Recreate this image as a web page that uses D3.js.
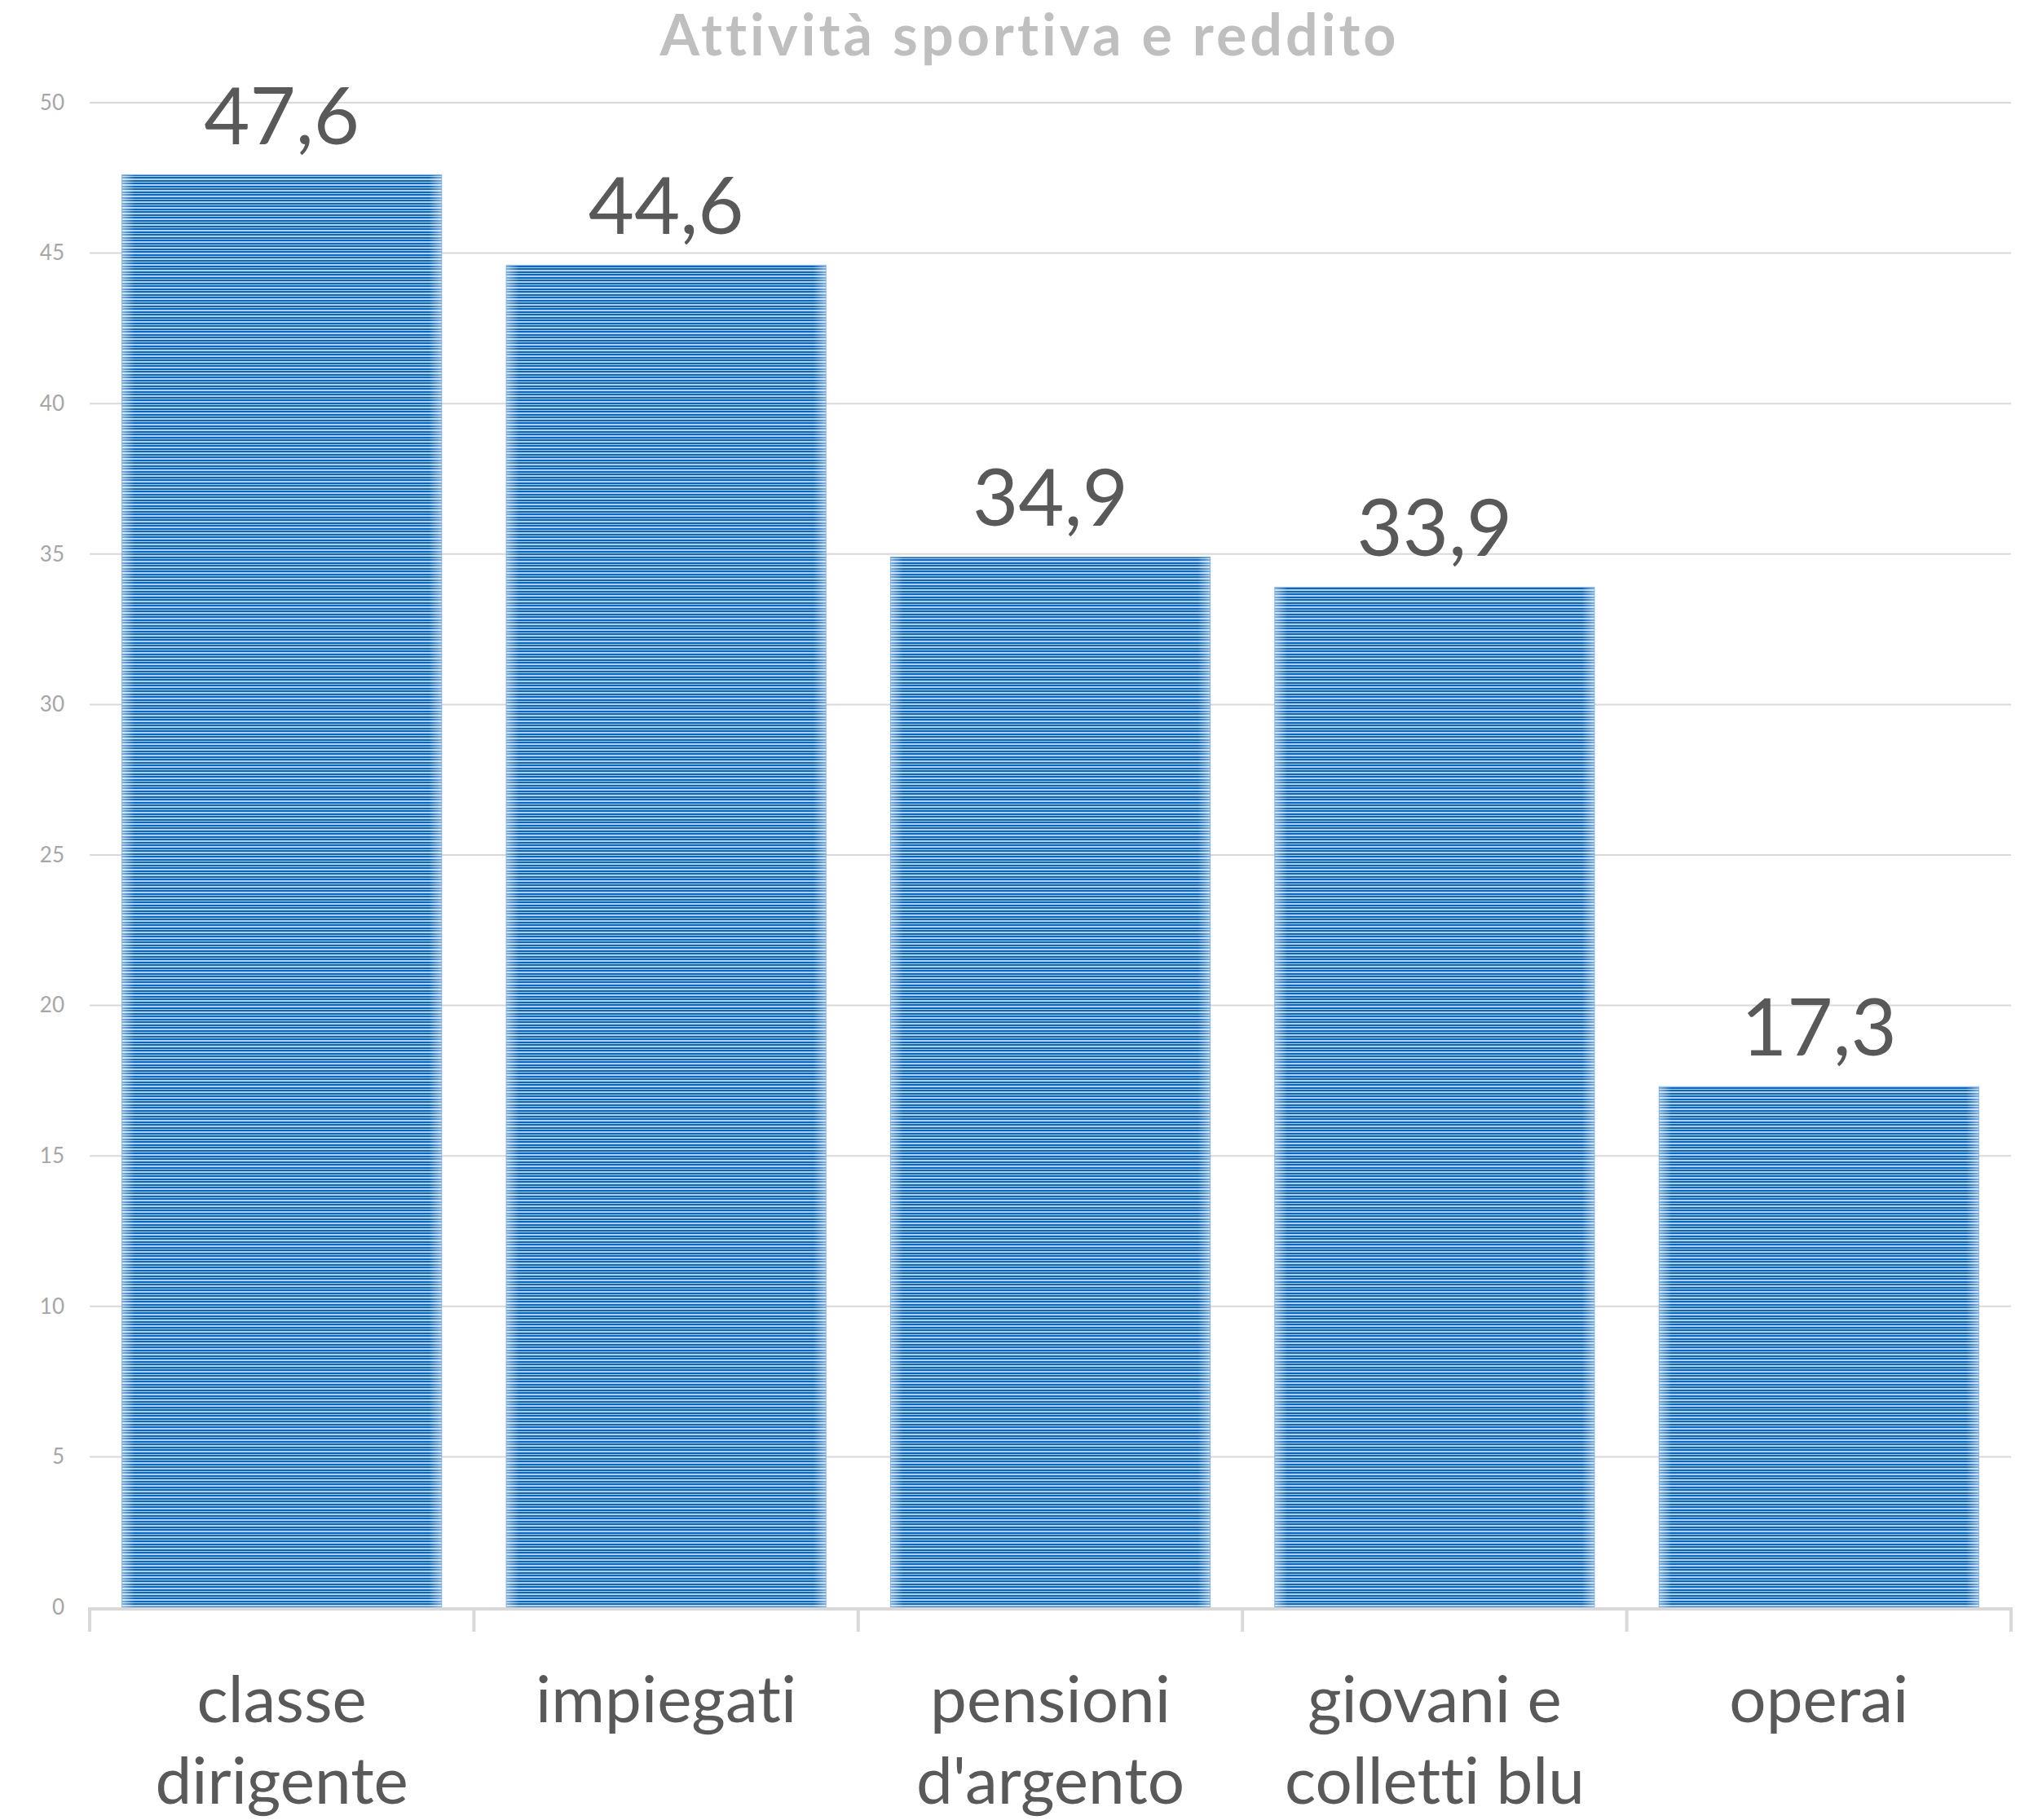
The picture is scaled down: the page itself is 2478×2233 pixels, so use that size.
<!DOCTYPE html>
<meta charset="utf-8">
<html>
<head>
<script src="https://d3js.org/d3.v7.min.js"></script>
<style>
body { margin: 0; background: #fff; }
text { font-family: Lato, "Open Sans", sans-serif; font-variant-ligatures: none; }
</style>
</head>
<body>
<script>
// chart data
var categories = ["classe dirigente", "impiegati", "pensioni d'argento", "giovani e colletti blu", "operai"];
var labelLines = [["classe", "dirigente"], ["impiegati"], ["pensioni", "d'argento"], ["giovani e", "colletti blu"], ["operai"]];
var values = [47.6, 44.6, 34.9, 33.9, 17.3];
var yTicks = [0, 5, 10, 15, 20, 25, 30, 35, 40, 45, 50];
var title = "Attività sportiva e reddito";

var W = 2478, H = 2233;
var plotLeft = 110, plotRight = 2467, plotTop = 126, plotBottom = 1972;

var svg = d3.select("body").append("svg")
  .attr("width", W)
  .attr("height", H);

var defs = svg.append("defs");

// horizontal stripe fill (two stripes per 7px tile, ~3.5px period)
var pat = defs.append("pattern")
  .attr("id", "stripes")
  .attr("patternUnits", "userSpaceOnUse")
  .attr("width", 10)
  .attr("height", 7);
pat.append("rect").attr("width", 10).attr("height", 7).attr("fill", "#b5d2f0");
pat.append("rect").attr("width", 10).attr("y", 0).attr("height", 2).attr("fill", "#0865c9");
pat.append("rect").attr("width", 10).attr("y", 4).attr("height", 2).attr("fill", "#0865c9");

// soft light edges on the left and right of each bar
var edge = defs.append("linearGradient")
  .attr("id", "edges")
  .attr("x1", "0").attr("x2", "1").attr("y1", "0").attr("y2", "0");
edge.append("stop").attr("offset", "0").attr("stop-color", "#fff").attr("stop-opacity", 0.5);
edge.append("stop").attr("offset", "0.04").attr("stop-color", "#fff").attr("stop-opacity", 0);
edge.append("stop").attr("offset", "0.96").attr("stop-color", "#fff").attr("stop-opacity", 0);
edge.append("stop").attr("offset", "1").attr("stop-color", "#fff").attr("stop-opacity", 0.5);

var x = d3.scaleBand()
  .domain(categories)
  .range([plotLeft, plotRight])
  .paddingInner(0.168)
  .paddingOuter(0.084);

var y = d3.scaleLinear()
  .domain([0, 50])
  .range([plotBottom, plotTop]);

// gridlines
svg.append("g")
  .selectAll("line")
  .data(yTicks.filter(function(d) { return d > 0; }))
  .enter().append("line")
  .attr("x1", plotLeft)
  .attr("x2", plotRight)
  .attr("y1", function(d) { return y(d); })
  .attr("y2", function(d) { return y(d); })
  .attr("stroke", "#d9d9d9")
  .attr("stroke-width", 2);

// y axis labels
var yAxis = svg.append("g")
  .attr("transform", "translate(" + (plotLeft - 31) + ",0)")
  .call(d3.axisLeft(y).tickValues(yTicks).tickSize(0).tickPadding(0));
yAxis.select(".domain").remove();
yAxis.selectAll("text")
  .attr("fill", "#a6a6a6")
  .style("font-family", "Lato, sans-serif")
  .style("font-size", "26px");

// bars
var bars = svg.append("g")
  .selectAll("g")
  .data(values)
  .enter().append("g");

bars.append("rect")
  .attr("x", function(d, i) { return x(categories[i]); })
  .attr("y", function(d) { return y(d); })
  .attr("width", x.bandwidth())
  .attr("height", function(d) { return plotBottom - y(d); })
  .attr("fill", "url(#stripes)");

bars.append("rect")
  .attr("x", function(d, i) { return x(categories[i]); })
  .attr("y", function(d) { return y(d); })
  .attr("width", x.bandwidth())
  .attr("height", function(d) { return plotBottom - y(d); })
  .attr("fill", "url(#edges)")
  .attr("stroke", "#5b9bd5")
  .attr("stroke-opacity", 0.6)
  .attr("stroke-width", 1);

// value labels
bars.append("text")
  .attr("x", function(d, i) { return x(categories[i]) + x.bandwidth() / 2; })
  .attr("y", function(d) { return y(d) - 38; })
  .attr("text-anchor", "middle")
  .attr("fill", "#595959")
  .style("font-size", "97px")
  .text(function(d) { return d.toFixed(1).replace(".", ","); });

// x axis line and ticks between categories
var axisG = svg.append("g");
axisG.append("line")
  .attr("x1", plotLeft).attr("x2", plotRight)
  .attr("y1", plotBottom + 2).attr("y2", plotBottom + 2)
  .attr("stroke", "#d9d9d9")
  .attr("stroke-width", 4);

var bounds = d3.range(categories.length + 1).map(function(i) {
  return plotLeft + i * (plotRight - plotLeft) / categories.length;
});
axisG.selectAll(".tick")
  .data(bounds)
  .enter().append("line")
  .attr("x1", function(d) { return d; })
  .attr("x2", function(d) { return d; })
  .attr("y1", plotBottom)
  .attr("y2", plotBottom + 30)
  .attr("stroke", "#d9d9d9")
  .attr("stroke-width", 4);

// category labels
var catText = svg.append("g")
  .selectAll("text")
  .data(labelLines)
  .enter().append("text")
  .attr("x", function(d, i) { return x(categories[i]) + x.bandwidth() / 2; })
  .attr("y", 2113)
  .attr("text-anchor", "middle")
  .attr("fill", "#595959")
  .style("font-size", "80px");

catText.selectAll("tspan")
  .data(function(d) { return d; })
  .enter().append("tspan")
  .attr("x", function() { return d3.select(this.parentNode).attr("x"); })
  .attr("dy", function(d, i) { return i === 0 ? 0 : 100; })
  .text(function(d) { return d; });

// title
svg.append("text")
  .attr("x", 1263)
  .attr("y", 68)
  .attr("text-anchor", "middle")
  .attr("fill", "#bfbfbf")
  .style("font-size", "70px")
  .style("font-weight", "bold")
  .style("letter-spacing", "4px")
  .text(title);
</script>
</body>
</html>
